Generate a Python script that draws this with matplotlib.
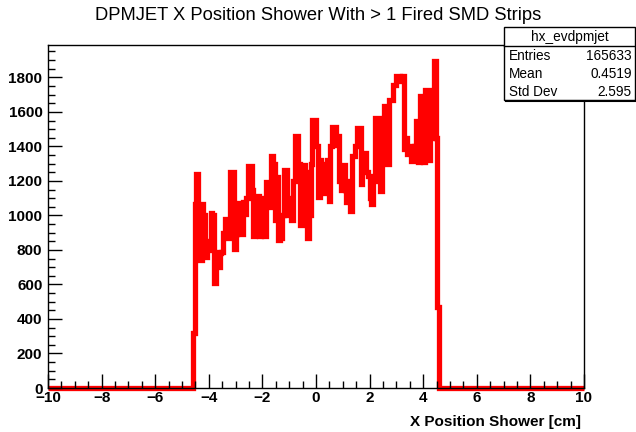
import matplotlib
matplotlib.use("Agg")
import matplotlib.pyplot as plt
import numpy as np
from matplotlib.patches import Rectangle
from matplotlib.lines import Line2D
from matplotlib.ticker import MultipleLocator

plt.rcParams['font.family'] = ['Liberation Sans', 'DejaVu Sans']

# histogram definition: 300 bins from -10 to 10, filled bins start at -4.6
x_min, x_max, n_bins = -10.0, 10.0, 300
first_bin = 81
counts_filled = [
    320, 1064, 1240, 1050, 740, 1064, 1000, 760, 850, 800,
    1016, 1000, 610, 790, 700, 780, 790, 900, 977, 960,
    870, 1250, 1250, 805, 890, 1073, 1000, 890, 1077, 1010,
    1100, 1287, 1287, 1150, 878, 900, 1111, 880, 1100, 1050,
    880, 1192, 1150, 1050, 1346, 1300, 975, 1220, 860, 870,
    1000, 1266, 1266, 1000, 1100, 975, 1200, 1459, 1459, 1300,
    946, 1295, 1290, 1250, 868, 1000, 1300, 1555, 1555, 1400,
    1105, 1324, 1300, 1130, 1250, 1324, 1086, 1400, 1513, 1513,
    1411, 1460, 1200, 1150, 1295, 1150, 1075, 1200, 1027, 1343,
    1343, 1400, 1507, 1507, 1184, 1350, 1362, 1250, 1230, 1100,
    1066, 1200, 1565, 1565, 1350, 1143, 1500, 1632, 1632, 1300,
    1671, 1671, 1758, 1758, 1810, 1810, 1780, 1810, 1384, 1449,
    1355, 1400, 1317, 1317, 1400, 1546, 1307, 1690, 1690, 1310,
    1729, 1729, 1320, 1450, 1600, 1893, 1450, 470,
]
stats_labels = ["Entries", "Mean", "Std Dev"]
stats_values = ["165633", "0.4519", "2.595"]

edges = np.linspace(x_min, x_max, n_bins + 1)
counts = np.zeros(n_bins)
counts[first_bin:first_bin + len(counts_filled)] = counts_filled

W, H = 636, 432
fig = plt.figure(figsize=(W / 100, H / 100), dpi=100)
ax = fig.add_axes([48 / W, 1 - 388 / H, (584 - 48) / W, (388 - 45) / H])

ax.stairs(counts, edges, color='#ff0000', linewidth=3.8, baseline=None,
          clip_on=False, zorder=1)

ax.set_xlim(x_min, x_max)
ax.set_ylim(0, 1.05 * counts.max())

ax.xaxis.set_major_locator(MultipleLocator(2))
ax.xaxis.set_minor_locator(MultipleLocator(0.5))
ax.yaxis.set_major_locator(MultipleLocator(200))
ax.yaxis.set_minor_locator(MultipleLocator(50))
ax.tick_params(which='both', direction='in', top=False, right=False,
               width=1, color='black')
ax.tick_params(which='major', length=10, labelsize=11)
ax.tick_params(axis='x', which='major', pad=2)
ax.tick_params(axis='y', which='major', pad=4)
ax.tick_params(which='minor', length=5)
for lab in ax.get_xticklabels() + ax.get_yticklabels():
    lab.set_fontweight('bold')
for sp in ax.spines.values():
    sp.set_linewidth(1)
    sp.set_zorder(3)

fig.text(581 / W, 1 - 422 / H, "X Position Shower [cm]", ha='right', va='center',
         fontsize=11, fontweight='bold')
fig.text(0.5, 1 - 16 / H, "DPMJET X Position Shower With > 1 Fired SMD Strips",
         ha='center', va='center', fontsize=13.2)

# stats box
bx0, bx1, by0, by1 = 504, 635, 27, 100
def fx(p): return p / W
def fy(p): return 1 - p / H
fig.add_artist(Rectangle((fx(bx0), fy(by1)), (bx1 - bx0) / W, (by1 - by0) / H,
                         facecolor='white', edgecolor='black', linewidth=1,
                         transform=fig.transFigure, zorder=5))
fig.add_artist(Line2D([fx(bx0), fx(bx1)], [fy(46), fy(46)], color='black',
                      linewidth=1, transform=fig.transFigure, zorder=6))
fig.add_artist(Line2D([fx(bx0 + 2), fx(bx1)], [fy(by1 + 1), fy(by1 + 1)], color='black',
                      linewidth=1.5, transform=fig.transFigure, zorder=6))
fig.text(fx((bx0 + bx1) / 2), fy(37), "hx_evdpmjet", ha='center', va='center',
         fontsize=9.8, zorder=7)
for i, (lab, val) in enumerate(zip(stats_labels, stats_values)):
    y = fy(56 + i * 18)
    fig.text(fx(509), y, lab, ha='left', va='center', fontsize=9.8, zorder=7)
    fig.text(fx(632), y, val, ha='right', va='center', fontsize=9.8, zorder=7)

fig.savefig("out.png", dpi=100)
